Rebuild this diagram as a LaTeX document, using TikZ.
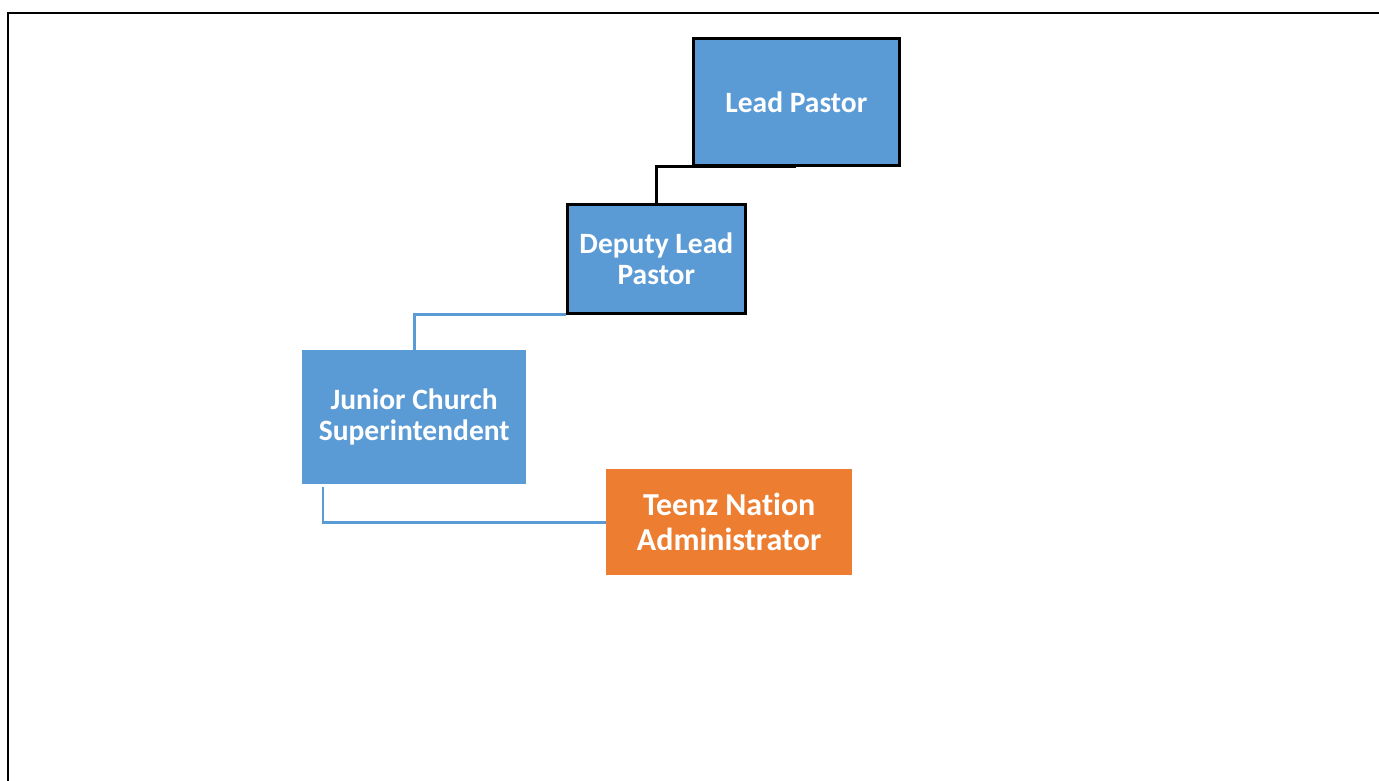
\documentclass[tikz,border=0pt]{standalone}
\usepackage{fontspec}
\setmainfont{Carlito}[Ligatures=NoCommon]
\definecolor{boxblue}{HTML}{5B9BD5}
\definecolor{boxorange}{HTML}{ED7D31}
\begin{document}
\begin{tikzpicture}[x=1pt,y=-1pt,
  bluebox/.style={fill=boxblue,text=white,font=\bfseries\fontsize{29.5}{31.5}\selectfont,align=center,inner sep=0pt,anchor=north west},
  orangebox/.style={fill=boxorange,text=white,font=\bfseries\fontsize{32}{35}\selectfont,align=center,inner sep=0pt,anchor=north west},
  blackline/.style={draw=black,line width=2.6pt},
  blueline/.style={draw=boxblue,line width=2.6pt}]
\useasboundingbox (0,0) rectangle (1379,780);
\draw[line width=2.6pt] (8,785) -- (8,13) -- (1385,13);
% boxes
\node[bluebox,draw=black,line width=2.6pt,minimum width=206pt,minimum height=127pt] (lead) at (692,37) {Lead Pastor};
\node[bluebox,draw=black,line width=2.6pt,minimum width=178pt,minimum height=109pt] (deputy) at (566,203) {Deputy Lead\\Pastor};
\node[bluebox,minimum width=224pt,minimum height=134pt] (junior) at (302,350) {Junior Church\\Superintendent};
\node[orangebox,minimum width=246pt,minimum height=106pt] (teenz) at (606,469) {Teenz Nation\\Administrator};
% connectors
\draw[blackline] (lead.south) -- (lead.south -| deputy.north) -- (deputy.north);
\draw[blueline] (deputy.south west) -- (deputy.south west -| junior.north) -- (junior.north);
\coordinate (jbot) at (323,487);
\draw[blueline] (jbot) |- (teenz.west);
\end{tikzpicture}
\end{document}
